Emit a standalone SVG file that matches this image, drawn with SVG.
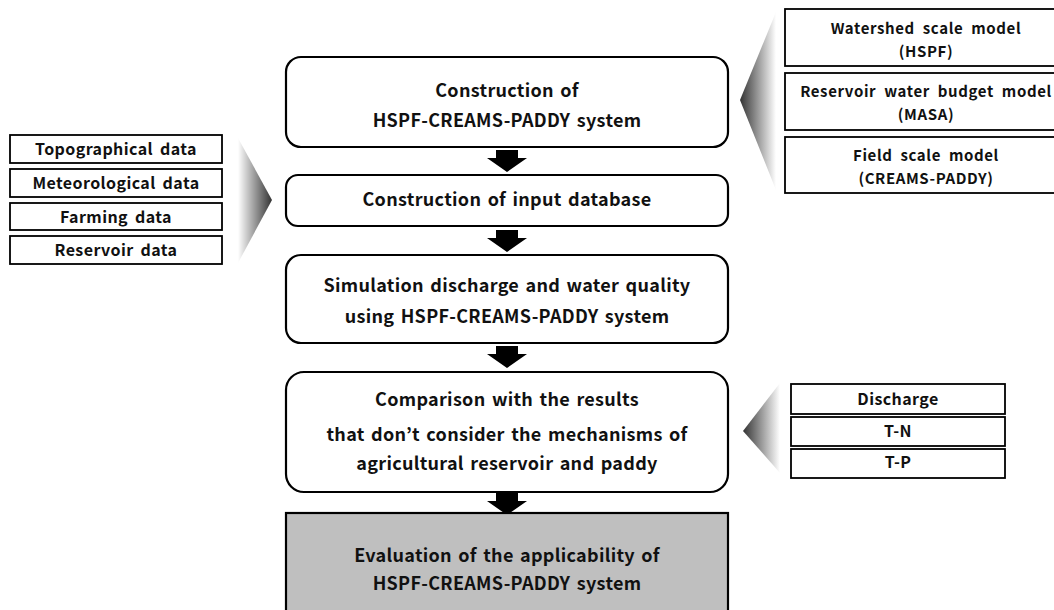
<svg xmlns="http://www.w3.org/2000/svg" width="1054" height="610" viewBox="0 0 1054 610">
<style>
text{font-family:"Noto Sans CJK KR","Noto Sans",sans-serif;font-weight:bold;fill:#111;text-anchor:middle}
.main{font-size:18px;letter-spacing:0.3px;word-spacing:2px}
.side{font-size:16px;letter-spacing:0.4px;word-spacing:3px}
.two{font-size:15px;letter-spacing:0.6px;word-spacing:4px}
.rbox{fill:#fff;stroke:#000;stroke-width:2.2}
.sbox{fill:#fff;stroke:#000;stroke-width:1.8}
.arr{fill:#000}
</style>
<defs>
<linearGradient id="gL" x1="0" y1="0" x2="1" y2="0">
<stop offset="0" stop-color="#333"/><stop offset="1" stop-color="#fff"/>
</linearGradient>
<linearGradient id="gR" x1="0" y1="0" x2="1" y2="0">
<stop offset="0" stop-color="#fff"/><stop offset="1" stop-color="#333"/>
</linearGradient>
</defs>
<g id="chevrons">
<polygon points="776,12 740,100 776,190" fill="url(#gL)"/>
<polygon points="238,138 272,200 238,263" fill="url(#gR)"/>
<polygon points="780,383 743,431 780,473" fill="url(#gL)"/>
</g>
<g id="connectors">
<polygon class="arr" points="496,150 518,150 518,158 527,158 507,172 487,158 496,158"/>
<polygon class="arr" points="496,230 518,230 518,238 527,238 507,252 487,238 496,238"/>
<polygon class="arr" points="496,346 518,346 518,354 527,354 507,368 487,354 496,354"/>
<polygon class="arr" points="496,493 518,493 518,501 527,501 507,515 487,501 496,501"/>
</g>
<g id="n1"><rect class="rbox" x="286" y="57" width="442" height="90" rx="15"/>
<text class="main" x="507" y="97">Construction of</text>
<text class="main" x="507" y="127">HSPF-CREAMS-PADDY system</text></g>
<g id="n2"><rect class="rbox" x="286" y="175" width="442" height="51" rx="12"/>
<text class="main" x="507" y="206">Construction of input database</text></g>
<g id="n3"><rect class="rbox" x="286" y="255" width="442" height="88" rx="15"/>
<text class="main" x="507" y="292">Simulation discharge and water quality</text>
<text class="main" x="507" y="323">using HSPF-CREAMS-PADDY system</text></g>
<g id="n4"><rect class="rbox" x="286" y="372" width="442" height="120" rx="18"/>
<text class="main" x="507" y="406">Comparison with the results</text>
<text class="main" x="507" y="441">that don’t consider the mechanisms of</text>
<text class="main" x="507" y="470">agricultural reservoir and paddy</text></g>
<g id="n5"><rect x="286" y="513" width="442" height="110" fill="#bfbfbf" stroke="#000" stroke-width="2.2"/>
<text class="main" x="507" y="562">Evaluation of the applicability of</text>
<text class="main" x="507" y="590">HSPF-CREAMS-PADDY system</text></g>
<g id="r1"><rect class="sbox" x="785" y="9" width="290" height="57"/>
<text class="two" x="926" y="34">Watershed scale model</text>
<text class="two" x="926" y="57">(HSPF)</text></g>
<g id="r2"><rect class="sbox" x="785" y="73" width="290" height="57"/>
<text class="two" x="926" y="97">Reservoir water budget model</text>
<text class="two" x="926" y="120">(MASA)</text></g>
<g id="r3"><rect class="sbox" x="785" y="137" width="290" height="56"/>
<text class="two" x="926" y="161">Field scale model</text>
<text class="two" x="926" y="184">(CREAMS-PADDY)</text></g>
<g id="l1"><rect class="sbox" x="10" y="135" width="212" height="28"/>
<text class="side" x="116" y="155">Topographical data</text></g>
<g id="l2"><rect class="sbox" x="10" y="169" width="212" height="28"/>
<text class="side" x="116" y="189">Meteorological data</text></g>
<g id="l3"><rect class="sbox" x="10" y="203" width="212" height="27"/>
<text class="side" x="116" y="223">Farming data</text></g>
<g id="l4"><rect class="sbox" x="10" y="236" width="212" height="28"/>
<text class="side" x="116" y="256">Reservoir data</text></g>
<g id="b1"><rect class="sbox" x="791" y="384" width="214" height="30"/>
<text class="side" x="898" y="405">Discharge</text></g>
<g id="b2"><rect class="sbox" x="791" y="417" width="214" height="29"/>
<text class="side" x="898" y="437">T-N</text></g>
<g id="b3"><rect class="sbox" x="791" y="449" width="214" height="29"/>
<text class="side" x="898" y="468">T-P</text></g>
</svg>
